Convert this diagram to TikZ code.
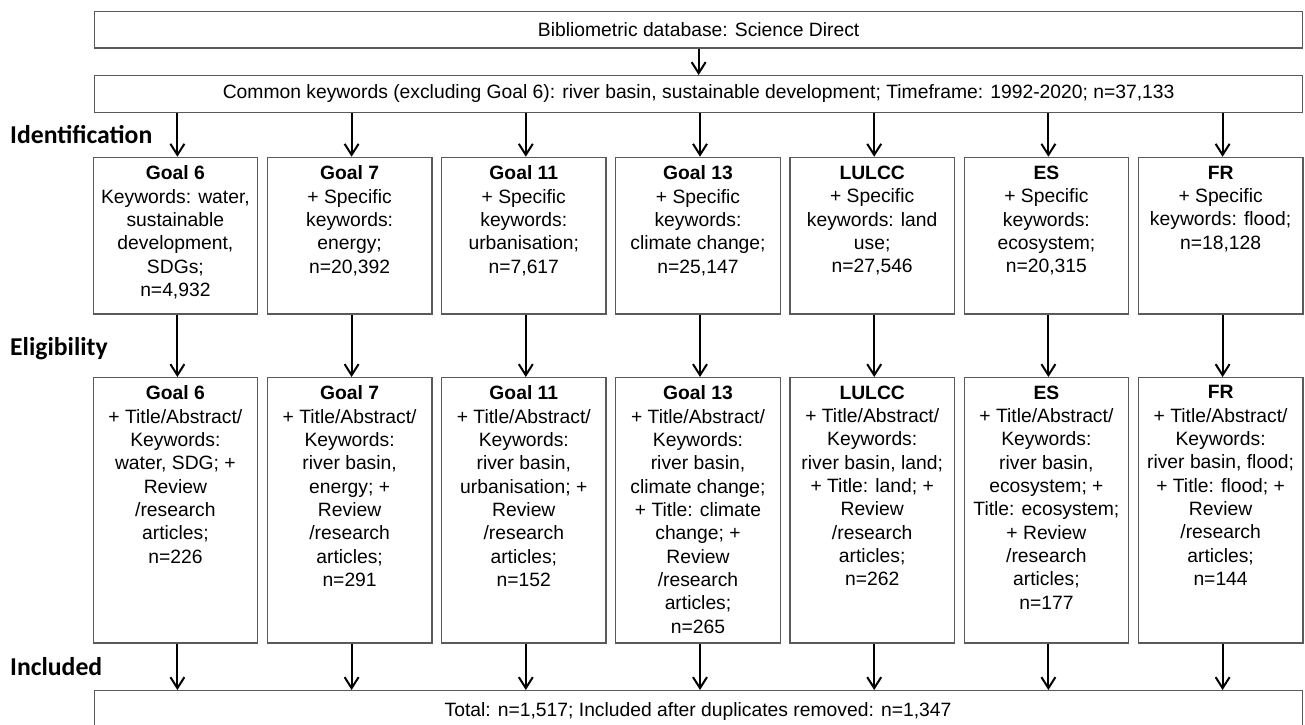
\documentclass[tikz,border=0pt]{standalone}
\usepackage{fontspec}
\setmainfont{Liberation Sans}
\newfontfamily\lblfont{Carlito}
\usetikzlibrary{arrows.meta,calc}
\definecolor{boxgray}{HTML}{5A5A5A}
\newcommand\mkcol[3]{%
  \pgfmathsetmacro\xl{92.5+174.2*(#1-1)}
  \node[box, anchor=north west, minimum width=164.5pt, minimum height=156.6pt] (a#1) at (\xl,156.7) {};
  \node[txt, anchor=north] (at#1) at ($(a#1.north)+(0,9)$) {#2};
  \node[box, anchor=north west, minimum width=164.5pt, minimum height=265.4pt] (b#1) at (\xl,377) {};
  \node[txt, anchor=north] (bt#1) at ($(b#1.north)+(0,8.5)$) {#3};
  \coordinate (x#1) at ($(a#1.north)+(2,0)$);
  \draw[arr] (x#1 |- c.south) -- (x#1 |- a#1.north);
  \draw[arr] (x#1 |- a#1.south) -- (x#1 |- b#1.north);
  \draw[arr] (x#1 |- b#1.south) -- (x#1 |- d.north);
}
\tikzset{
  box/.style={draw=boxgray, line width=1.3pt, inner sep=0pt, fill=white},
  txt/.style={inner sep=0pt, align=center, font=\fontsize{19.3}{23.33}\selectfont},
  arr/.style={line width=2pt, black, -{Straight Barb[length=11pt,width=14pt,line width=2pt]}},
  lbl/.style={inner sep=0pt, font=\lblfont\bfseries\fontsize{25.7}{30}\selectfont},
}
\begin{document}
\begin{tikzpicture}[x=1pt,y=-1pt]
\useasboundingbox[fill=white] (0,0) rectangle (1305,724);
\node[box, anchor=north west, minimum width=1208pt, minimum height=36.3pt, font=\fontsize{19.3}{23.33}\selectfont] (t) at (94,11) {Bibliometric database: Science Direct};
\node[box, anchor=north west, minimum width=1208pt, minimum height=36.7pt, font=\fontsize{19.3}{23.33}\selectfont] (c) at (94,75) {Common keywords (excluding Goal 6): river basin, sustainable development; Timeframe: 1992-2020; n=37,133};
\node[box, anchor=north west, minimum width=1208pt, minimum height=42pt] (d) at (94,690) {};
\node[txt] (dt) at (698,711) {Total: n=1,517; Included after duplicates removed: n=1,347};
\draw[arr] (t.south) -- (c.north);
\node[lbl, anchor=base west] (l1) at (10,143) {Identification};
\node[lbl, anchor=base west] (l2) at (10,355) {Eligibility};
\node[lbl, anchor=base west] (l3) at (10,675) {Included};
\mkcol{1}{\textbf{Goal 6}\\Keywords: water,\\sustainable\\development,\\SDGs;\\n=4,932}
  {\textbf{Goal 6}\\+ Title/Abstract/\\Keywords:\\water, SDG; +\\Review\\/research\\articles;\\n=226}
\mkcol{2}{\textbf{Goal 7}\\+ Specific\\keywords:\\energy;\\n=20,392}
  {\textbf{Goal 7}\\+ Title/Abstract/\\Keywords:\\river basin,\\energy; +\\Review\\/research\\articles;\\n=291}
\mkcol{3}{\textbf{Goal 11}\\+ Specific\\keywords:\\urbanisation;\\n=7,617}
  {\textbf{Goal 11}\\+ Title/Abstract/\\Keywords:\\river basin,\\urbanisation; +\\Review\\/research\\articles;\\n=152}
\mkcol{4}{\textbf{Goal 13}\\+ Specific\\keywords:\\climate change;\\n=25,147}
  {\textbf{Goal 13}\\+ Title/Abstract/\\Keywords:\\river basin,\\climate change;\\+ Title: climate\\change; +\\Review\\/research\\articles;\\n=265}
\mkcol{5}{\textbf{LULCC}\\+ Specific\\keywords: land\\use;\\n=27,546}
  {\textbf{LULCC}\\+ Title/Abstract/\\Keywords:\\river basin, land;\\+ Title: land; +\\Review\\/research\\articles;\\n=262}
\mkcol{6}{\textbf{ES}\\+ Specific\\keywords:\\ecosystem;\\n=20,315}
  {\textbf{ES}\\+ Title/Abstract/\\Keywords:\\river basin,\\ecosystem; +\\Title: ecosystem;\\+ Review\\/research\\articles;\\n=177}
\mkcol{7}{\textbf{FR}\\+ Specific\\keywords: flood;\\n=18,128}
  {\textbf{FR}\\+ Title/Abstract/\\Keywords:\\river basin, flood;\\+ Title: flood; +\\Review\\/research\\articles;\\n=144}
\end{tikzpicture}
\end{document}
